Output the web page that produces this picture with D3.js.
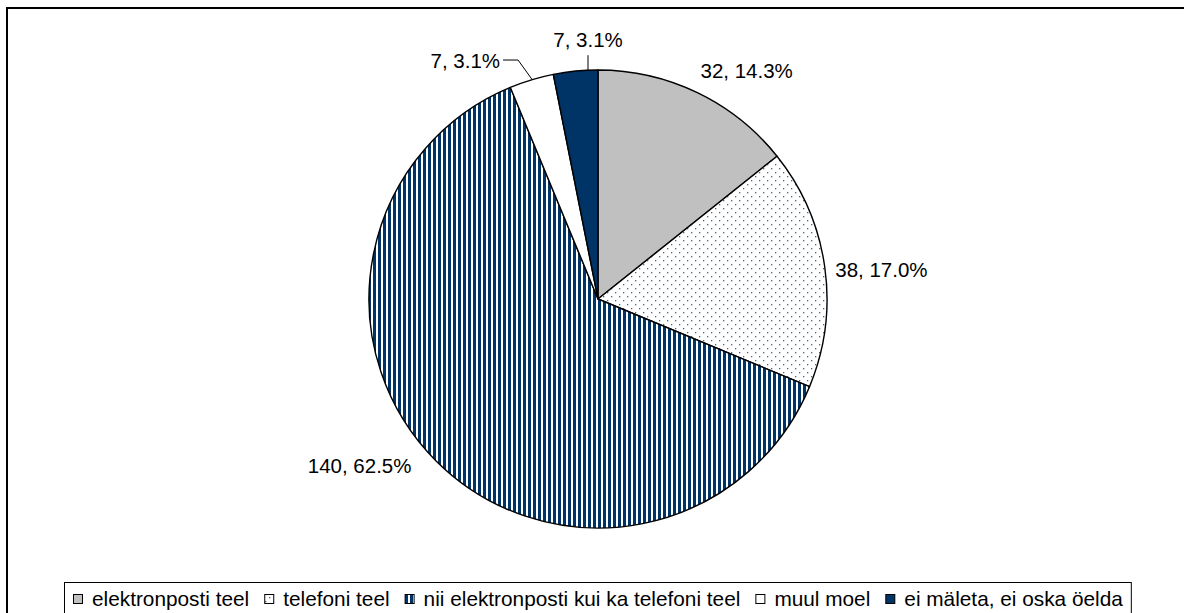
<!DOCTYPE html>
<html>
<head>
<meta charset="utf-8">
<script src="https://cdn.jsdelivr.net/npm/d3@7"></script>
<style>
	body { margin: 0; background: #fff; }
	svg { display: block; font-family: Arial, 'Liberation Sans', sans-serif; }
</style>
</head>
<body>
<svg id="chart" width="1184" height="613"></svg>
<script>
const categories = ['elektronposti teel', 'telefoni teel', 'nii elektronposti kui ka telefoni teel', 'muul moel', 'ei mäleta, ei oska öelda']
const values = [32, 38, 140, 7, 7]
const percents = ['14.3%', '17.0%', '62.5%', '3.1%', '3.1%']

// fills for each slice, in category order
const fills = ['#c0c0c0', 'url(#dots)', 'url(#stripes)', '#ffffff', '#003366']

// where each label sits: angle (deg, clockwise from top) and distance from centre,
// leader draws a connector line from the slice edge
const labelLayout = [
	{angle: 33, dist: 273},
	{angle: 84, dist: 285},
	{angle: 235, dist: 291},
	{angle: 343.3, leader: 'left'},
	{angle: 357.5, leader: 'up'}
]

const cx = 598
const cy = 299
const radius = 229

const svg = d3.select('#chart')
const defs = svg.append('defs')

let dots = defs.append('pattern')
	.attr('id', 'dots')
	.attr('patternUnits', 'userSpaceOnUse')
	.attr('width', 8)
	.attr('height', 8)
dots.append('rect').attr('width', 8).attr('height', 8).attr('fill', '#fff')
dots.append('rect').attr('x', 1).attr('y', 1).attr('width', 1.3).attr('height', 1.3).attr('fill', '#3d6794')
dots.append('rect').attr('x', 5).attr('y', 5).attr('width', 1.3).attr('height', 1.3).attr('fill', '#3d6794')

let stripes = defs.append('pattern')
	.attr('id', 'stripes')
	.attr('patternUnits', 'userSpaceOnUse')
	.attr('width', 5)
	.attr('height', 5)
stripes.append('rect').attr('width', 5).attr('height', 5).attr('fill', '#fff')
stripes.append('rect').attr('width', 3).attr('height', 5).attr('fill', '#003366')

// outer chart frame, runs past the right and bottom edges
svg.append('rect')
	.attr('x', 7)
	.attr('y', 8)
	.attr('width', 1182)
	.attr('height', 620)
	.attr('fill', 'none')
	.attr('stroke', '#000')
	.attr('stroke-width', 2)

const pie = d3.pie().sort(null).value(d => d)
const arcs = pie(values)
const arc = d3.arc().innerRadius(0).outerRadius(radius)

const g = svg.append('g').attr('transform', `translate(${cx},${cy})`)

g.selectAll('path.slice')
	.data(arcs)
	.join('path')
	.attr('class', 'slice')
	.attr('d', arc)
	.attr('fill', (d, i) => fills[i])
	.attr('stroke', '#000')
	.attr('stroke-width', 1.4)
	.attr('stroke-linejoin', 'round')

const polar = (deg, r) => {
	let a = deg * Math.PI / 180
	return [r * Math.sin(a), -r * Math.cos(a)]
}

const fontSize = 20.5

arcs.forEach((d, i) => {
	let lay = labelLayout[i]
	let text = `${values[i]}, ${percents[i]}`
	if (!lay.leader) {
		let [x, y] = polar(lay.angle, lay.dist)
		g.append('text')
			.attr('x', x)
			.attr('y', y)
			.attr('text-anchor', 'middle')
			.attr('dominant-baseline', 'central')
			.style('font-size', fontSize + 'px')
			.text(text)
	} else if (lay.leader === 'left') {
		let p0 = polar(lay.angle, radius)
		let p1 = polar(lay.angle - 1.8, radius + 23)
		let p2 = [p1[0] - 15, p1[1]]
		g.append('polyline')
			.attr('points', [p0, p1, p2].map(p => p.join(',')).join(' '))
			.attr('fill', 'none')
			.attr('stroke', '#000')
			.attr('stroke-width', 1)
		g.append('text')
			.attr('x', p2[0] - 3)
			.attr('y', p2[1])
			.attr('text-anchor', 'end')
			.attr('dominant-baseline', 'central')
			.style('font-size', fontSize + 'px')
			.text(text)
	} else {
		let p0 = polar(lay.angle, radius)
		let p1 = [p0[0], p0[1] - 15]
		g.append('line')
			.attr('x1', p0[0]).attr('y1', p0[1])
			.attr('x2', p1[0]).attr('y2', p1[1])
			.attr('stroke', '#000')
			.attr('stroke-width', 1)
		g.append('text')
			.attr('x', p1[0])
			.attr('y', p1[1] - 8)
			.attr('text-anchor', 'middle')
			.style('font-size', fontSize + 'px')
			.text(text)
	}
})

// legend
const legendFont = 20.8
const legend = svg.append('g')
const legendBox = legend.append('rect')
	.attr('x', 64.5)
	.attr('y', 582.5)
	.attr('height', 50)
	.attr('fill', '#fff')
	.attr('stroke', '#000')
	.attr('stroke-width', 1)

let lx = 73
categories.forEach((c, i) => {
	legend.append('rect')
		.attr('x', lx + 0.5)
		.attr('y', 594.5)
		.attr('width', 9)
		.attr('height', 9)
		.attr('fill', fills[i])
		.attr('stroke', '#000')
		.attr('stroke-width', 1)
	let t = legend.append('text')
		.attr('x', lx + 19)
		.attr('y', 606)
		.style('font-size', legendFont + 'px')
		.text(c)
	lx += 19 + t.node().getComputedTextLength() + 15
})
legendBox.attr('width', lx - 64 - 7)
</script>
</body>
</html>
